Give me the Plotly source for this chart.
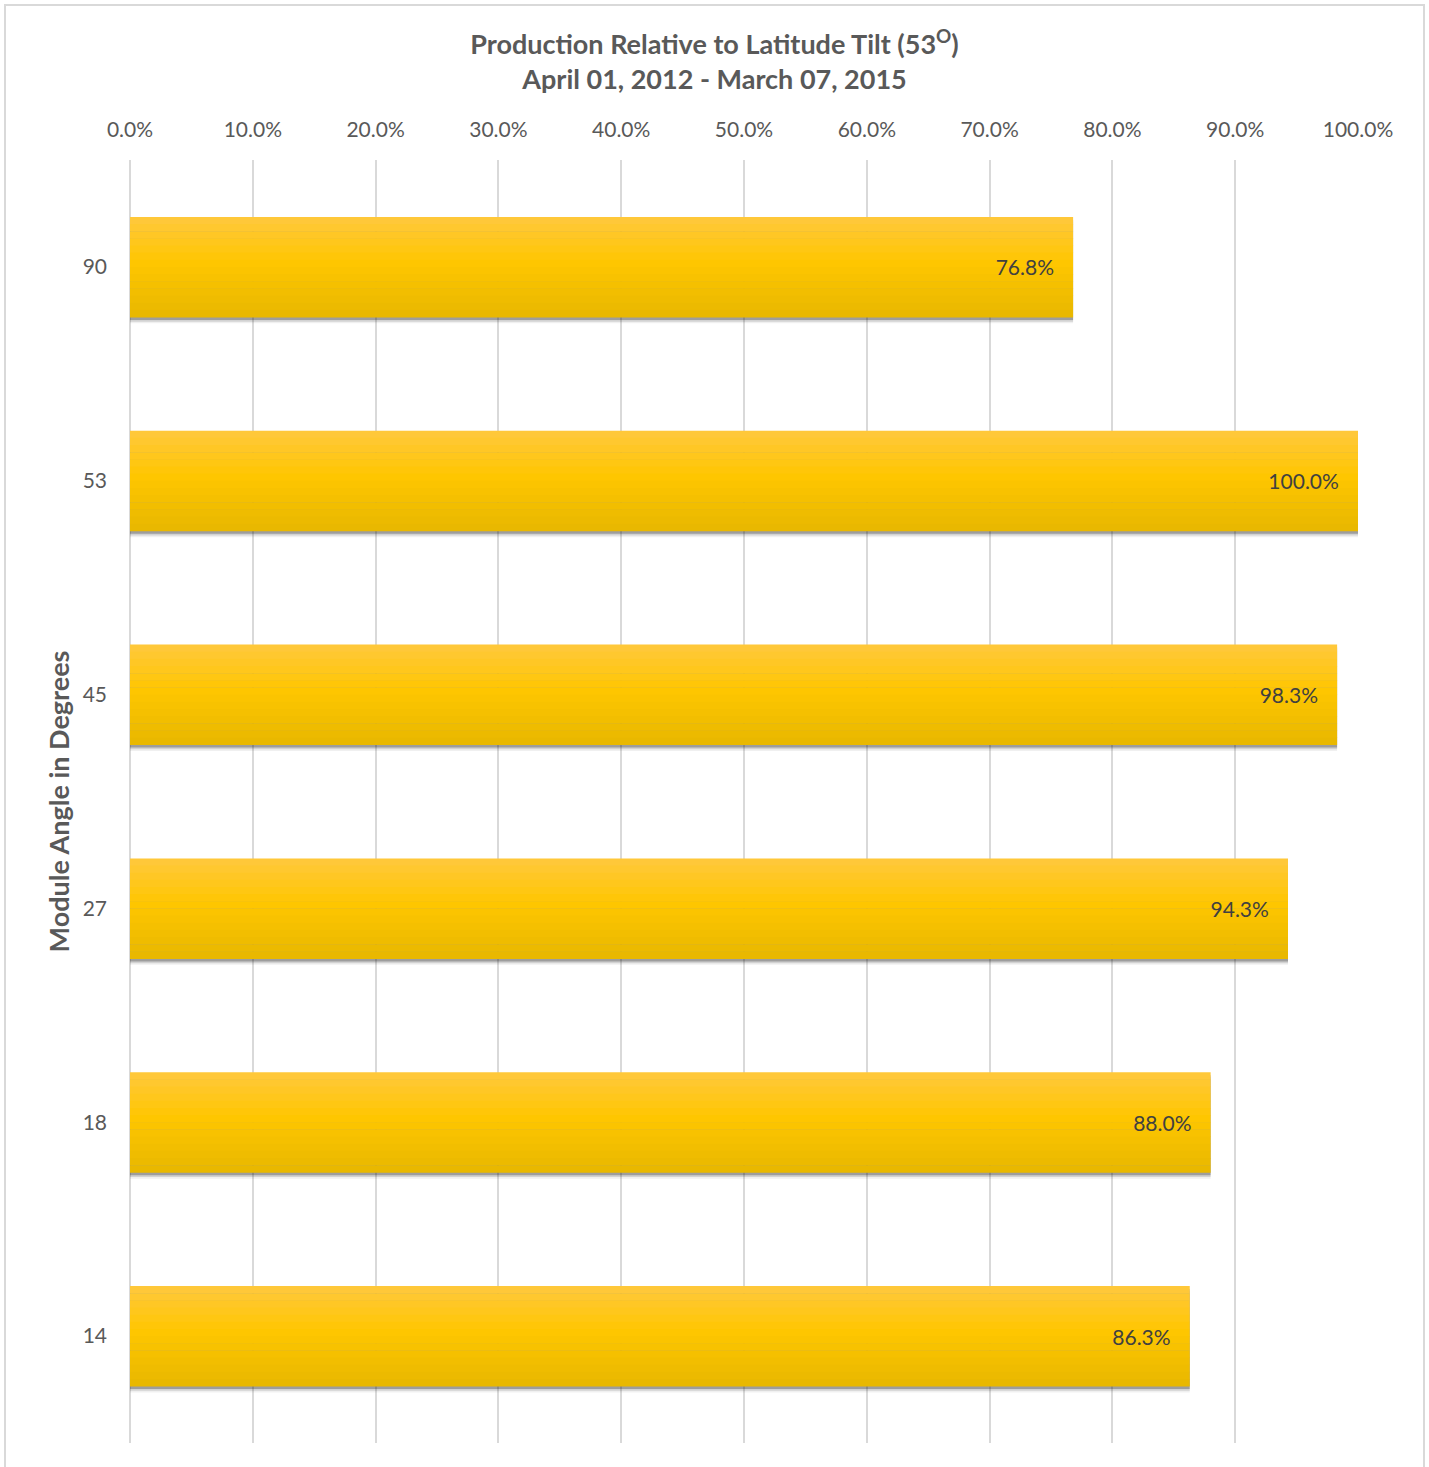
import plotly.graph_objects as go

# ---- data ----
angles = ["90", "53", "45", "27", "18", "14"]
production_pct = [76.8, 100.0, 98.3, 94.3, 88.0, 86.3]
x_ticks = [0, 10, 20, 30, 40, 50, 60, 70, 80, 90, 100]

title_line1 = "Production Relative to Latitude Tilt (53<sup>O</sup>)"
title_line2 = "April 01, 2012 - March 07, 2015"
y_title = "Module Angle in Degrees"

FONT = "Lato, 'Open Sans', sans-serif"
BAR_W = 0.468
N_BANDS = 14

def lerp(c1, c2, t):
    return tuple(round(a + (b - a) * t) for a, b in zip(c1, c2))

top_c = (255, 200, 62)
mid_c = (255, 198, 0)
bot_c = (232, 183, 0)

fig = go.Figure()

# shadow
for off, alpha in [(0.030, 0.06), (0.022, 0.12), (0.014, 0.25)]:
    fig.add_trace(go.Bar(
        y=angles, x=production_pct, orientation="h",
        width=BAR_W, offset=-BAR_W / 2 + off,
        marker=dict(color="rgba(0,0,0,%.2f)" % alpha, line=dict(width=0)),
        hoverinfo="skip", showlegend=False))

# gradient bands
h = BAR_W / N_BANDS
for i in range(N_BANDS):
    t = (i + 0.5) / N_BANDS
    if t < 0.45:
        c = lerp(top_c, mid_c, t / 0.45)
    else:
        c = lerp(mid_c, bot_c, (t - 0.45) / 0.55)
    fig.add_trace(go.Bar(
        y=angles, x=production_pct, orientation="h",
        width=h * 1.06, offset=-BAR_W / 2 + i * h,
        marker=dict(color="rgb(%d,%d,%d)" % c, line=dict(width=0)),
        hoverinfo="skip", showlegend=False))

# labels
fig.add_trace(go.Bar(
    y=angles, x=production_pct, orientation="h",
    width=BAR_W, offset=-BAR_W / 2,
    marker=dict(color="rgba(0,0,0,0)", line=dict(width=0)),
    text=["%.1f%%" % v for v in production_pct],
    texttemplate="%{text}\u00a0\u00a0\u00a0",
    textposition="inside", insidetextanchor="end",
    textangle=0,
    insidetextfont=dict(family=FONT, size=21, color="#404040"),
    cliponaxis=False, showlegend=False))

fig.update_layout(
    width=1429, height=1467,
    barmode="overlay",
    paper_bgcolor="white", plot_bgcolor="white",
    margin=dict(l=130, r=71, t=160, b=24),
    title=dict(
        text="<b>" + title_line1 + "<br>" + title_line2 + "</b>",
        x=0.5, xanchor="center", xref="container",
        y=1 - 54 / 1467, yanchor="middle", yref="container",
        font=dict(family=FONT, size=27, color="#595959")),
    xaxis=dict(
        side="top", range=[0, 100], tickvals=x_ticks,
        ticktext=["%.1f%%" % v for v in x_ticks],
        showgrid=True, gridcolor="#D9D9D9", gridwidth=2,
        zeroline=True, zerolinecolor="#D9D9D9", zerolinewidth=2,
        showline=False, ticks="", ticklabelstandoff=18,
        tickfont=dict(family=FONT, size=21, color="#595959"),
        fixedrange=True),
    yaxis=dict(
        type="category", categoryorder="array", categoryarray=angles,
        autorange="reversed",
        showgrid=False, zeroline=False, showline=False, ticks="",
        ticklabelstandoff=22,
        tickfont=dict(family=FONT, size=21, color="#595959"),
        title=dict(text="<b>" + y_title + "</b>", standoff=5,
                   font=dict(family=FONT, size=27, color="#595959"))),
    shapes=[dict(type="rect", xref="paper", yref="paper",
                 x0=(5 - 130) / 1228, x1=(1424 - 130) / 1228,
                 y0=-0.05, y1=1 + (160 - 5) / 1283,
                 line=dict(color="#D9D9D9", width=2),
                 fillcolor="rgba(0,0,0,0)", layer="below")],
)

fig.write_html("out.html")
